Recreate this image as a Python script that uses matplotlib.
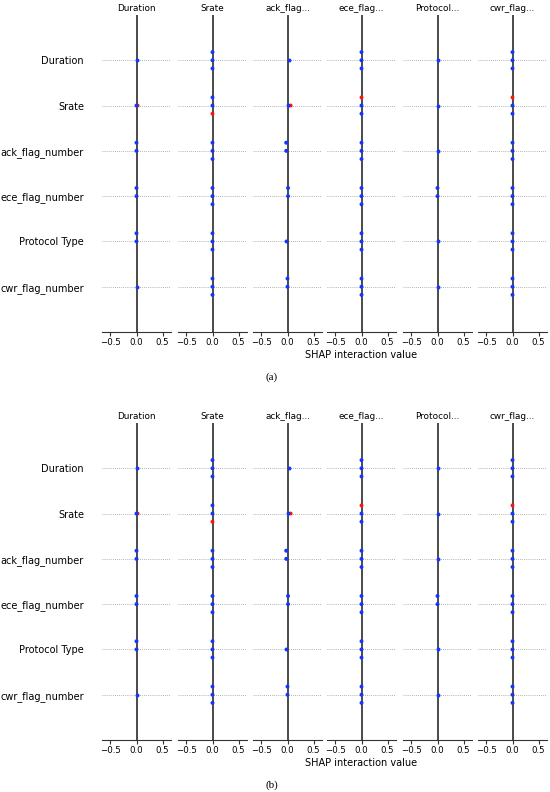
import numpy as np
import matplotlib
matplotlib.use("Agg")
import matplotlib.pyplot as plt

features = ["Duration", "Srate", "ack_flag_number", "ece_flag_number",
            "Protocol Type", "cwr_flag_number"]

# SHAP interaction values, one list per (column feature, row feature)
vals_duration = [[0.0], [0.0, 0.02], [0.0, 0.0], [0.0, 0.0], [0.0, 0.0], [0.0]]
vals_srate = [[0.0, 0.0, 0.0]] * 6
vals_ack = [[0.02], [0.02, 0.06], [-0.025, -0.025], [0.01, 0.01], [-0.03], [0.0, 0.0]]
vals_ece = [[0.0, 0.0, 0.0]] * 6
vals_protocol = [[0.0], [0.0], [0.0], [0.0, 0.0], [0.0], [0.0]]
vals_cwr = [[0.0, 0.0, 0.0]] * 6

# feature value (0 = low / blue, 1 = high / red) for the same points
fv_duration = [[0], [0, 1], [0, 0], [0, 0], [0, 0], [0]]
fv_srate = [[0, 0, 0], [0, 0, 1], [0, 0, 0], [0, 0, 0], [0, 0, 0], [0, 0, 0]]
fv_ack = [[0], [0, 1], [0, 0], [0, 0], [0], [0, 0]]
fv_ece = [[0, 0, 0], [0, 1, 0], [0, 0, 0], [0, 0, 0], [0, 0, 0], [0, 0, 0]]
fv_protocol = [[0], [0], [0], [0, 0], [0], [0]]
fv_cwr = [[0, 0, 0], [0, 1, 0], [0, 0, 0], [0, 0, 0], [0, 0, 0], [0, 0, 0]]

all_vals = [vals_duration, vals_srate, vals_ack, vals_ece, vals_protocol, vals_cwr]
all_fv = [fv_duration, fv_srate, fv_ack, fv_ece, fv_protocol, fv_cwr]

BLUE = "#1236ff"
RED = "#ff1414"


def short(name):
    return name[:8] + "..." if len(name) > 11 else name


def swarm(values):
    # stack equal values: 0, up, down, ...
    offs = []
    seen = {}
    for v in values:
        k = round(v, 3)
        layer = seen.get(k, 0)
        seen[k] = layer + 1
        step = int(np.ceil(layer / 2))
        sign = -1 if layer % 2 == 1 else 1
        offs.append(sign * step * 0.18)
    return offs


def draw_panel(fig, bottom_px, caption, caption_y):
    H = 792.0
    W = 550.0
    lefts = [102, 178, 253, 327, 403, 478]
    for j in range(len(features)):
        ax = fig.add_axes([lefts[j] / W, bottom_px / H, 69 / W, 317 / H])
        ax.axvline(0, color="#4a4a4a", lw=1.4, zorder=1)
        for i in range(len(features)):
            ax.axhline(i, color="#999999", lw=0.6, ls=(0, (1, 1.5)), zorder=0)
            v = all_vals[j][i]
            c = [RED if f else BLUE for f in all_fv[j][i]]
            y = [i + o for o in swarm(v)]
            order = sorted(range(len(v)), key=lambda k: -all_fv[j][i][k])
            ax.scatter([v[k] for k in order], [y[k] for k in order],
                       c=[c[k] for k in order], s=8, lw=0, zorder=3)
        ax.set_xlim(-0.66, 0.66)
        ax.set_ylim(6, -1)
        ax.set_xticks([-0.5, 0.0, 0.5])
        ax.set_xticklabels(["\u22120.5", "0.0", "0.5"])
        for s in ["top", "right", "left"]:
            ax.spines[s].set_visible(False)
        ax.spines["bottom"].set_color("#333333")
        ax.tick_params(axis="x", labelsize=6.2, length=3, width=0.8, pad=1.5,
                       color="#333333")
        ax.set_title(short(features[j]), fontsize=6.4, pad=3)
        if j == 0:
            ax.set_yticks(range(len(features)))
            ax.set_yticklabels(features, fontsize=7)
            ax.tick_params(axis="y", length=0, pad=13)
        else:
            ax.set_yticks([])
        if j == 3:
            ax.set_xlabel("SHAP interaction value", fontsize=7, labelpad=2)
    fig.text(272 / W, 1 - caption_y / H, caption, ha="center", va="center",
             fontsize=8, family="Liberation Serif")


fig = plt.figure(figsize=(5.5, 7.92), dpi=100)
draw_panel(fig, 460, "(a)", 377)
draw_panel(fig, 52, "(b)", 785)
fig.savefig("out.png", dpi=100)
